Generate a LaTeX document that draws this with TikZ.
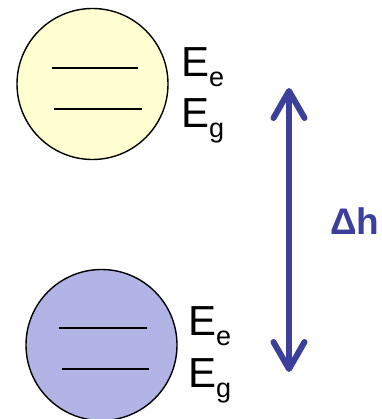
\documentclass[tikz,border=0pt]{standalone}
\usepackage{fontspec}
\setmainfont{Liberation Sans}
\usetikzlibrary{arrows.meta}
\definecolor{paleyellow}{HTML}{FFFFD2}
\definecolor{lavender}{HTML}{B1B4E5}
\definecolor{arrowblue}{HTML}{3C409B}
\newcommand{\lvl}[1]{E\raisebox{-10pt}{\fontsize{27}{27}\selectfont #1}}
\begin{document}
\begin{tikzpicture}[x=1pt,y=-1pt,
  atom/.style={circle,draw=black,line width=1.4pt,minimum size=151pt,inner sep=0pt},
  level/.style={line width=2pt},
  elabel/.style={anchor=base west,inner sep=0pt,font=\fontsize{42}{42}\selectfont},
  gap/.style={line width=6pt,arrowblue,line cap=round,
    {Straight Barb[length=27pt,width=31pt,line cap=round,round]}-{Straight Barb[length=27pt,width=31pt,line cap=round,round]}}]
  \useasboundingbox (0,0) rectangle (381,419);
  % upper atom
  \node[atom,fill=paleyellow] (top) at (92.5,84) {};
  \coordinate (t1a) at (52,68);  \coordinate (t1b) at (138,68);
  \coordinate (t2a) at (54,109); \coordinate (t2b) at (142,109);
  \draw[level] (t1a) -- (t1b);
  \draw[level] (t2a) -- (t2b);
  \node[elabel] (tEe) at (181,77) {\lvl{e}};
  \node[elabel] (tEg) at (181,128) {\lvl{g}};
  % lower atom
  \node[atom,fill=lavender] (bot) at (101.5,345) {};
  \coordinate (b1a) at (59,328);  \coordinate (b1b) at (147,328);
  \coordinate (b2a) at (62,369);  \coordinate (b2b) at (149,369);
  \draw[level] (b1a) -- (b1b);
  \draw[level] (b2a) -- (b2b);
  \node[elabel] (bEe) at (188,335) {\lvl{e}};
  \node[elabel] (bEg) at (188,387) {\lvl{g}};
  % energy gap arrow
  \coordinate (up) at (289,88);
  \coordinate (down) at (289,372);
  \draw[gap] (down) -- (up);
  \node[anchor=base west,inner sep=0pt,text=arrowblue,font=\fontsize{37}{37}\selectfont\bfseries] (dh) at (330,234) {Δh};
\end{tikzpicture}
\end{document}
